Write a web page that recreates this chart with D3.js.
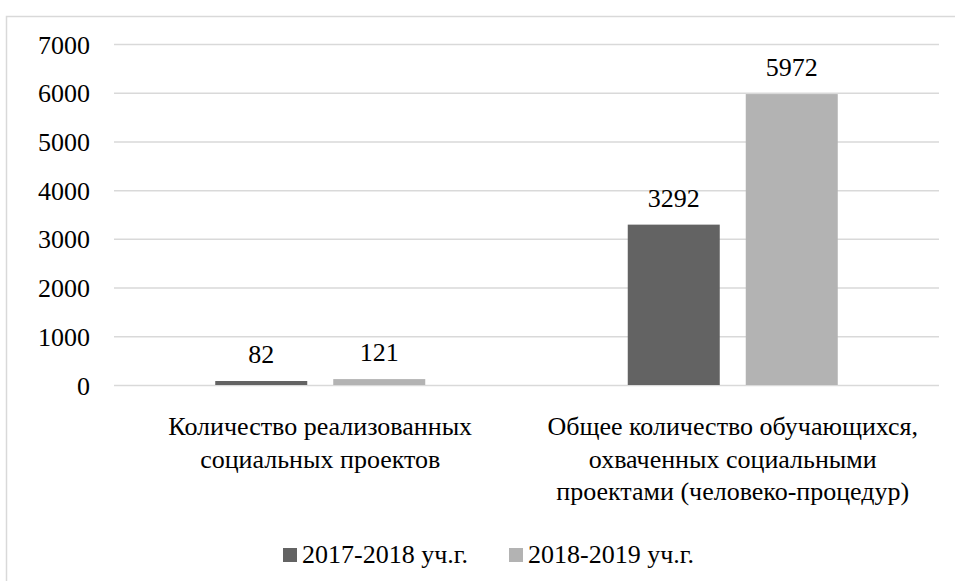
<!DOCTYPE html>
<html><head><meta charset="utf-8">
<script src="https://cdn.jsdelivr.net/npm/d3@7"></script>
<style>
svg text, svg tspan { font-family: "Liberation Serif", "Times New Roman", Tinos, serif !important; }
</style>
</head><body style="margin:0"><svg id="c" width="955" height="581" font-family="Liberation Serif" font-size="26"></svg>
<script>
const categories = [["Количество реализованных","социальных проектов"],["Общее количество обучающихся,","охваченных социальными","проектами (человеко-процедур)"]];
const seriesNames = ["2017-2018 уч.г.","2018-2019 уч.г."];
const values2017 = [82, 3292];
const values2018 = [121, 5972];
const yTicks = [0,1000,2000,3000,4000,5000,6000,7000];
const colors = ["#636363","#b3b3b3"];
const FONT = "Liberation Serif";

const svg = d3.select("#c");
svg.append("rect").attr("x",6.5).attr("y",16.5).attr("width",1000).attr("height",1000)
  .attr("fill","none").attr("stroke","#d9d9d9").attr("stroke-width",1.5);

const L=114, R=939, T=44, B=385;
const x0 = d3.scaleBand().domain(d3.range(categories.length)).range([L,R]);
const y = d3.scaleLinear().domain([0,7000]).range([B,T]);
const barW = 92, gap = 26;
const x1 = d3.scaleBand().domain([0,1]).range([-(barW+gap/2), barW+gap/2]).paddingInner(gap/(barW+gap)).paddingOuter(0);

const yAxis = d3.axisLeft(y).tickValues(yTicks).tickSize(-(R-L)).tickFormat(d3.format("d"));
const ga = svg.append("g").attr("transform",`translate(${L},0)`).call(yAxis);
ga.attr("font-family",FONT).attr("font-size",26);
ga.select(".domain").remove();
ga.selectAll(".tick line").attr("stroke","#d9d9d9").attr("stroke-width",1.5);
ga.selectAll(".tick text").attr("x",-24).attr("dy","0.35em").attr("fill","#000")
  .attr("font-family",FONT).style("font-family",FONT);

[values2017, values2018].forEach((vals,si)=>{
  const g = svg.append("g");
  g.selectAll("rect").data(vals).join("rect")
    .attr("x",(d,i)=>x0(i)+x0.bandwidth()/2 + x1(si))
    .attr("width",x1.bandwidth())
    .attr("y",d=>y(d)).attr("height",d=>B-y(d)).attr("fill",colors[si]);
  g.selectAll("text").data(vals).join("text")
    .attr("x",(d,i)=>x0(i)+x0.bandwidth()/2 + x1(si)+x1.bandwidth()/2)
    .attr("y",d=>y(d)-18).attr("text-anchor","middle")
    .attr("font-family",FONT).attr("font-size",26).text(d=>d);
});

categories.forEach((lines,i)=>{
  const t = svg.append("text").attr("text-anchor","middle").attr("font-family",FONT).attr("font-size",26);
  lines.forEach((ln,j)=>t.append("tspan").attr("x",x0(i)+x0.bandwidth()/2).attr("y",435+j*32.5).text(ln));
});

const legX=[283,509];
seriesNames.forEach((n,i)=>{
  svg.append("rect").attr("x",legX[i]).attr("y",548).attr("width",14).attr("height",14).attr("fill",colors[i]);
  svg.append("text").attr("x",legX[i]+19).attr("y",563).attr("font-family",FONT).attr("font-size",26).text(n);
});
</script></body></html>
